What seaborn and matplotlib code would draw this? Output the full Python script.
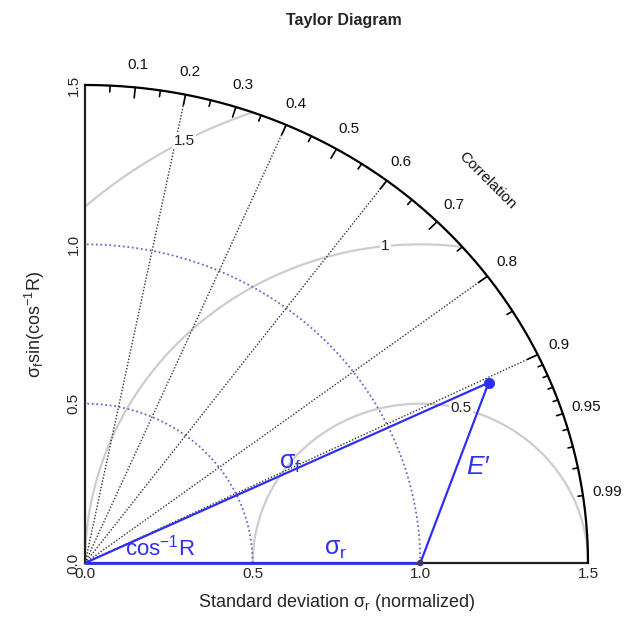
import numpy as np
import pandas as pd
import matplotlib
matplotlib.use("Agg")
import matplotlib.pyplot as plt
import seaborn as sns

# ---- data ----
max_sd = 1.5
ref_sd = 1.0
model_sd = 1.33
model_corr = 0.905
corr_lines = [0.2, 0.4, 0.6, 0.8, 0.9]
big_ticks = [0.1, 0.2, 0.3, 0.4, 0.5, 0.6, 0.7, 0.8, 0.9]
med_ticks = [0.05, 0.15, 0.25, 0.35, 0.45, 0.55, 0.65, 0.75, 0.85, 0.95]
small_ticks = [0.91, 0.92, 0.93, 0.94, 0.96, 0.97, 0.98, 0.99]
corr_labels = [0.1, 0.2, 0.3, 0.4, 0.5, 0.6, 0.7, 0.8, 0.9, 0.95, 0.99]
rms_levels = [0.5, 1.0, 1.5]
rms_label_text = ["0.5", "1", "1.5"]
rms_label_angle_deg = [76, 96, 118]
sd_arcs = [0.5, 1.0]
axis_ticks = [0.0, 0.5, 1.0, 1.5]
axis_tick_labels = ["0.0", "0.5", "1.0", "1.5"]

sns.set_style("white")
plt.rcParams['font.family'] = ['Liberation Sans', 'DejaVu Sans']
plt.rcParams['mathtext.fontset'] = 'custom'
plt.rcParams['mathtext.rm'] = 'Liberation Sans'
plt.rcParams['mathtext.it'] = 'Liberation Sans:italic'

BLUE = '#2f2ff0'
ARC_BLUE = '#6868c8'
GRAY = '#cdcdcd'

fig = plt.figure(figsize=(6.24, 6.2), dpi=100)
ax = fig.add_axes([85/624, 1-563/620, (588-85)/624, (563-85)/620])
ax.set_xlim(0, max_sd)
ax.set_ylim(0, max_sd)

# RMS (centered) circles around reference, clipped to outer radius
for g in rms_levels:
    th = np.linspace(0, np.pi, 800)
    xs = ref_sd + g*np.cos(th)
    ys = g*np.sin(th)
    keep = (xs >= 0) & (np.hypot(xs, ys) <= max_sd)
    xs = np.where(keep, xs, np.nan); ys = np.where(keep, ys, np.nan)
    ax.plot(xs, ys, color=GRAY, lw=1.6, zorder=1)
for g, lab, a in zip(rms_levels, rms_label_text, rms_label_angle_deg):
    t = np.deg2rad(a)
    ax.text(ref_sd + g*np.cos(t), g*np.sin(t), lab, ha='center', va='center',
            fontsize=11, color='#222222', zorder=3,
            bbox=dict(boxstyle='square,pad=0.1', fc='white', ec='none'))

# sd arcs
for s in sd_arcs:
    th = np.linspace(0, np.pi/2, 300)
    ax.plot(s*np.cos(th), s*np.sin(th), color=ARC_BLUE, lw=1.3, ls=(0, (1, 1.5)), zorder=2)

# correlation rays
for c in corr_lines:
    ax.plot([0, max_sd*c], [0, max_sd*np.sqrt(1-c**2)], color='#333333', lw=1.0,
            ls=(0, (1, 1.3)), zorder=2)

# outer arc
th = np.linspace(0, np.pi/2, 500)
ax.plot(max_sd*np.cos(th), max_sd*np.sin(th), color='black', lw=1.6, zorder=4, clip_on=False)
for ticks, f in [(big_ticks, 0.978), (med_ticks, 0.987), (small_ticks, 0.99)]:
    for c in ticks:
        s = np.sqrt(1-c**2)
        ax.plot([max_sd*c, max_sd*c*f], [max_sd*s, max_sd*s*f], color='black', lw=1.2, zorder=4)
for c in corr_labels:
    s = np.sqrt(1-c**2)
    ax.text(1.048*max_sd*c, 1.048*max_sd*s, f"{c:g}", ha='center', va='center',
            fontsize=11, color='#111111', clip_on=False)
ax.text(0.8*max_sd, 0.8*max_sd, "Correlation", rotation=-45, ha='center', va='center',
        fontsize=11, color='#111111')

# model triangle
px = model_sd*model_corr
py = model_sd*np.sqrt(1-model_corr**2)
tri = pd.DataFrame({'x': [0, px, ref_sd], 'y': [0, py, 0], 'o': [0, 1, 2]})
sns.lineplot(data=tri, x='x', y='y', sort=False, estimator=None, color=BLUE, lw=1.6, ax=ax, zorder=5)
ax.plot([0, ref_sd], [0, 0], color=BLUE, lw=2.0, zorder=5, clip_on=False)
sns.scatterplot(x=[px], y=[py], color=BLUE, s=55, edgecolor=BLUE, ax=ax, zorder=6)
sns.scatterplot(x=[ref_sd], y=[0], color='#3a3a70', s=22, edgecolor='none', ax=ax, zorder=6, clip_on=False)

# blue annotations
ax.text(0.611, 0.314, r"$\mathregular{σ_f}$", color=BLUE, fontsize=18, ha='center', va='center', zorder=7)
ax.text(0.746, 0.045, r"$\mathregular{σ_r}$", color=BLUE, fontsize=18, ha='center', va='center', zorder=7)
ax.text(0.224, 0.05, r"$\mathregular{cos^{-1}R}$", color=BLUE, fontsize=16, ha='center', va='center', zorder=7)
ax.text(1.17, 0.30, "E\u2032", color=BLUE, fontsize=19, style='italic', ha='center', va='center', zorder=7)

# axes styling
for sp in ['top', 'right']:
    ax.spines[sp].set_visible(False)
ax.spines['left'].set_color('#222222'); ax.spines['left'].set_linewidth(1.6)
ax.spines['bottom'].set_color('#222222'); ax.spines['bottom'].set_linewidth(1.6)
ax.set_xticks(axis_ticks)
ax.set_xticklabels(axis_tick_labels, fontsize=11)
ax.set_yticks(axis_ticks)
ax.set_yticklabels(axis_tick_labels, fontsize=11, rotation=90, va='center')
ax.tick_params(axis='both', length=6, width=1, color='#222222', direction='out', pad=-3)
ax.set_xlabel(r"Standard deviation $\mathregular{σ_r}$ (normalized)", fontsize=13, labelpad=8)
ax.set_ylabel(r"$\mathregular{σ_fsin(cos^{-1}R)}$", fontsize=13, labelpad=14)
ax.text(0.5*max_sd*1.03, max_sd*1.135, "Taylor Diagram", ha='center', va='center',
        fontsize=11.5, fontweight='bold', clip_on=False)

fig.savefig("out.png", dpi=100, facecolor='white')
